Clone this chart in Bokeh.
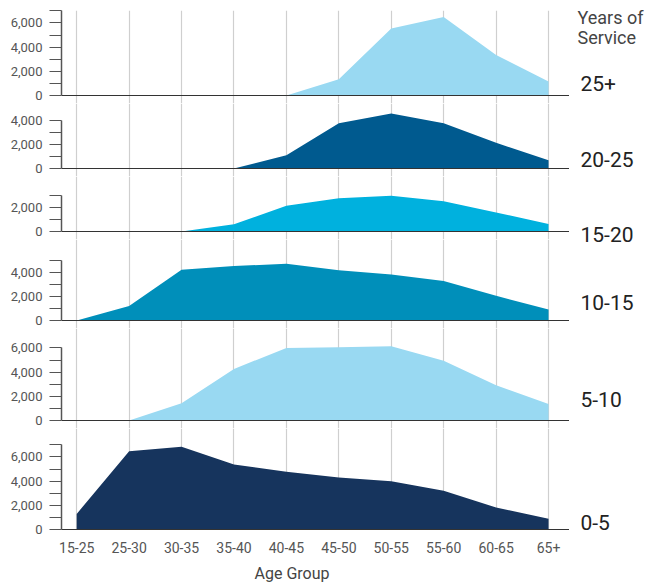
from bokeh.plotting import figure
from bokeh.layouts import column, row
from bokeh.models import Range1d, FixedTicker, NumeralTickFormatter, Span, Title
from bokeh.core.properties import value
from bokeh.embed import file_html
from bokeh.resources import INLINE

# ---------------- data ----------------
age_groups = ["15-25", "25-30", "30-35", "35-40", "40-45", "45-50", "50-55", "55-60", "60-65", "65+"]
service_groups = ["25+", "20-25", "15-20", "10-15", "5-10", "0-5"]

yos_25_plus = [0, 0, 0, 0, 0, 1350, 5550, 6500, 3350, 1150]
yos_20_25 = [0, 0, 0, 0, 1100, 3750, 4550, 3750, 2120, 690]
yos_15_20 = [0, 0, 0, 600, 2120, 2760, 2950, 2510, 1570, 630]
yos_10_15 = [0, 1200, 4200, 4500, 4700, 4150, 3810, 3260, 2040, 910]
yos_5_10 = [0, 0, 1430, 4270, 6000, 6050, 6150, 4950, 2920, 1375]
yos_0_5 = [1290, 6480, 6840, 5380, 4770, 4300, 4000, 3200, 1820, 880]

axis_max = [7000, 4000, 3000, 5000, 6000, 7000]

series = [yos_25_plus, yos_20_25, yos_15_20, yos_10_15, yos_5_10, yos_0_5]
colors = ["#99d9f2", "#005a8f", "#00b1de", "#008fba", "#99d9f2", "#16345d"]

# ---------------- layout ----------------
FONT = "Roboto"
PX_PER_1000 = 12.09
BELOW = 8                                  # px kept under each baseline (room for the "0" label)
frame_heights = [93, 73, 63, 89, 100, 101]
TOP_BORDER = 10
BOTTOM_BORDER = 56
LEFT_BORDER = 61
FRAME_W = 508

x_idx = list(range(len(age_groups)))
x_range = Range1d(-0.29, 9.40)

figs = []
n = len(series)
for i, (vals, col, top, h) in enumerate(zip(series, colors, axis_max, frame_heights)):
    last = i == n - 1
    if last:
        y0, y1 = 0, h * 1000 / PX_PER_1000
    else:
        y0, y1 = -BELOW * 1000 / PX_PER_1000, (h - BELOW) * 1000 / PX_PER_1000
    p = figure(x_range=x_range, y_range=Range1d(y0, y1),
               frame_width=FRAME_W, frame_height=h,
               min_border_left=LEFT_BORDER, min_border_right=0,
               min_border_top=TOP_BORDER if i == 0 else 0,
               min_border_bottom=BOTTOM_BORDER if last else 0,
               toolbar_location=None, output_backend="svg",
               background_fill_color="white", border_fill_color="white")
    p.outline_line_color = None

    p.xgrid.ticker = FixedTicker(ticks=x_idx)
    p.xgrid.grid_line_color = "#cfcfcf"
    p.xgrid.grid_line_width = 1.2
    p.ygrid.visible = False

    p.varea(x=x_idx, y1=[0] * len(vals), y2=vals, fill_color=col)

    # y axis
    ya = p.yaxis[0]
    ya.bounds = (0, top)
    ya.ticker = FixedTicker(ticks=list(range(0, top + 1, 2000)),
                            minor_ticks=list(range(1000, top + 1, 2000)))
    ya.formatter = NumeralTickFormatter(format="0,0")
    ya.axis_line_color = "#555555"
    ya.axis_line_width = 1.5
    ya.major_tick_line_color = "#555555"
    ya.minor_tick_line_color = "#555555"
    ya.major_tick_line_width = 1.2
    ya.minor_tick_line_width = 1.2
    ya.major_tick_out = 12
    ya.minor_tick_out = 12
    ya.major_tick_in = 0
    ya.minor_tick_in = 0
    ya.major_label_standoff = 7
    ya.major_label_text_font = FONT
    ya.major_label_text_font_size = "13px"
    ya.major_label_text_color = "#555555"

    xa = p.xaxis[0]
    if last:
        xa.ticker = FixedTicker(ticks=x_idx)
        xa.major_label_overrides = {i2: lab for i2, lab in zip(x_idx, age_groups)}
        xa.axis_line_color = "#333333"
        xa.axis_line_width = 1.2
        xa.major_tick_line_color = None
        xa.minor_tick_line_color = None
        xa.major_tick_out = 0
        xa.major_tick_in = 0
        xa.major_label_standoff = 12
        xa.major_label_text_font = FONT
        xa.major_label_text_font_size = "14px"
        xa.major_label_text_color = "#555555"
        p.add_layout(Title(text="Age Group", align="left", offset=193,
                           text_font=FONT, text_font_size="16px", text_font_style="normal",
                           text_color="#444444", standoff=12), "below")
    else:
        xa.visible = False
        p.add_layout(Span(location=0, dimension="width", line_color="#333333", line_width=1.2))
    figs.append(p)

# right-hand labels (page-pixel coordinate figure)
total_h = TOP_BORDER + sum(frame_heights) + BOTTOM_BORDER
LAB_W = 77
lab = figure(x_range=Range1d(0, LAB_W), y_range=Range1d(total_h, 0),
             frame_width=LAB_W, frame_height=total_h, min_border=0,
             toolbar_location=None, output_backend="svg",
             background_fill_color="white", border_fill_color="white")
lab.outline_line_color = None
lab.axis.visible = False
lab.grid.visible = False

title_lines = ["Years of", "Service"]
lab.text(x=[8, 8], y=[16.7, 37.3], text=title_lines,
         text_font=value(FONT), text_font_size="18px", text_color="#444444",
         text_align="left", text_baseline="middle")

label_y_page = [82.7, 159, 233.7, 301.7, 399, 521.7]
lab.text(x=[11] * n, y=label_y_page, text=service_groups,
         text_font=value(FONT), text_font_size="21px", text_color="#222222",
         text_align="left", text_baseline="middle")

layout = row(column(*figs, spacing=0), lab, spacing=0)

open("out.html", "w").write(file_html(layout, INLINE))
